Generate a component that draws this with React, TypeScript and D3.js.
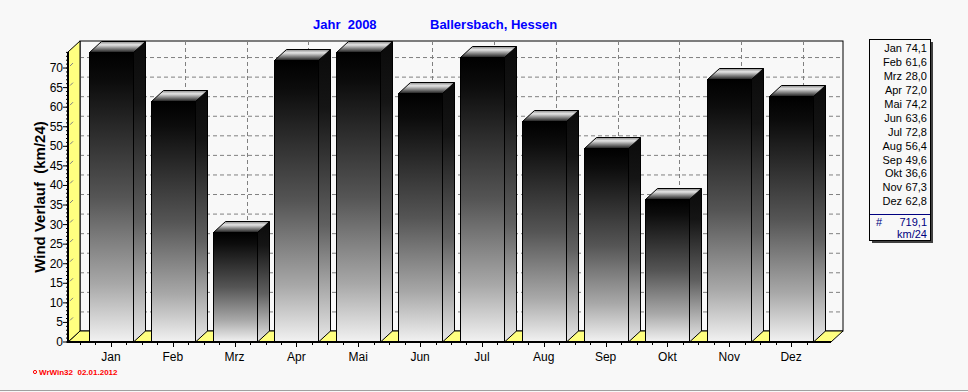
import React, { useEffect, useRef } from "react";
import * as d3 from "d3";

const months = ["Jan", "Feb", "Mrz", "Apr", "Mai", "Jun", "Jul", "Aug", "Sep", "Okt", "Nov", "Dez"];
const values = [74.1, 61.6, 28.0, 72.0, 74.2, 63.6, 72.8, 56.4, 49.6, 36.6, 67.3, 62.8];
const yTicks = [0, 5, 10, 15, 20, 25, 30, 35, 40, 45, 50, 55, 60, 65, 70];
const totalLabel = "719,1";
const unitLabel = "km/24";

const fmt = (v: number) => d3.format(".1f")(v).replace(".", ",");

const App = () => {
  const ref = useRef<SVGSVGElement>(null);

  useEffect(() => {
    const W = 968, H = 392;
    const dx = 12, dy = 11;
    const left = 68, right = 831, bottom = 342;
    const font = "'Liberation Sans', Arial, sans-serif";

    const svg = d3.select(ref.current);
    svg.selectAll("*").remove();
    svg.attr("width", W).attr("height", H);

    const x = d3.scaleBand<string>().domain(months).range([80, 822]);
    const y = d3.scaleLinear().domain([0, 74.1]).range([bottom, 52]);
    const barW = 44;
    const top = y(74.1);

    // gradients
    const defs = svg.append("defs");
    const grad = (id: string, stops: [number, string][]) => {
      const g = defs.append("linearGradient").attr("id", id)
        .attr("x1", 0).attr("y1", 0).attr("x2", 0).attr("y2", 1);
      stops.forEach(([o, c]) => g.append("stop").attr("offset", o).attr("stop-color", c));
    };
    grad("front", [[0, "#000"], [0.1, "#0c0c0c"], [0.5, "#555"], [0.8, "#a8a8a8"], [1, "#f2f2f2"]]);
    grad("side", [[0, "#0a0a0a"], [0.2, "#151515"], [0.6, "#606060"], [1, "#e8e8e8"]]);
    grad("topf", [[0, "#8a8a8a"], [0.3, "#e4e4e4"], [1, "#1a1a1a"]]);

    svg.append("rect").attr("width", W).attr("height", H).attr("fill", "#f8f8f8");

    // back wall
    svg.append("rect")
      .attr("x", left + dx).attr("y", top - dy)
      .attr("width", right - left).attr("height", bottom - top)
      .attr("fill", "#f8f8f8").attr("stroke", "#000");

    // grid on back wall
    const grid = svg.append("g").attr("stroke", "#808080").attr("stroke-dasharray", "4,3");
    yTicks.filter(t => t > 0).forEach(t => {
      grid.append("line")
        .attr("x1", left + dx).attr("x2", right + dx)
        .attr("y1", y(t) - dy + 0.5).attr("y2", y(t) - dy + 0.5);
    });
    months.forEach(m => {
      const cx = Math.round(x(m)! + x.bandwidth() / 2 + dx) + 0.5;
      grid.append("line").attr("x1", cx).attr("x2", cx).attr("y1", top - dy).attr("y2", bottom - dy);
    });

    // floor
    svg.append("path")
      .attr("d", `M${left},${bottom}L${left + dx},${bottom - dy}L${right + dx},${bottom - dy}L${right},${bottom}Z`)
      .attr("fill", "#ffff80").attr("stroke", "#000");

    // left wall
    svg.append("path")
      .attr("d", `M${left},${bottom}L${left + dx},${bottom - dy}L${left + dx},${top - dy}L${left},${top}Z`)
      .attr("fill", "#ffff80").attr("stroke", "#000");
    yTicks.filter(t => t > 0).forEach(t => {
      svg.append("line")
        .attr("x1", left + 2).attr("y1", y(t) - 2)
        .attr("x2", left + 5).attr("y2", y(t) - 5)
        .attr("stroke", "#808080");
    });

    // bars
    const bars = svg.append("g");
    months.forEach((m, i) => {
      const x0 = Math.round(x(m)! + (x.bandwidth() - barW) / 2) + 0.5;
      const x1 = x0 + barW;
      const yt = Math.round(y(values[i])) + 0.5;
      const g = bars.append("g").attr("stroke", "#000").attr("stroke-width", 1);
      g.append("path")
        .attr("d", `M${x1},${yt}L${x1 + dx},${yt - dy}L${x1 + dx},${bottom - dy}L${x1},${bottom}Z`)
        .attr("fill", "url(#side)");
      g.append("path")
        .attr("d", `M${x0},${yt}L${x0 + dx},${yt - dy}L${x1 + dx},${yt - dy}L${x1},${yt}Z`)
        .attr("fill", "url(#topf)");
      g.append("rect")
        .attr("x", x0).attr("y", yt).attr("width", barW).attr("height", bottom - yt)
        .attr("fill", "url(#front)");
    });

    // y axis
    const ax = svg.append("g");
    ax.append("line").attr("x1", left).attr("x2", left).attr("y1", top).attr("y2", bottom + 1)
      .attr("stroke", "#000").attr("stroke-width", 2);
    d3.range(0, 75).forEach(v => {
      ax.append("line").attr("x1", left - 2).attr("x2", left).attr("y1", y(v)).attr("y2", y(v)).attr("stroke", "#000");
    });
    yTicks.forEach(t => {
      ax.append("line").attr("x1", left - 5).attr("x2", left).attr("y1", y(t)).attr("y2", y(t)).attr("stroke", "#000");
      ax.append("text").attr("x", left - 5).attr("y", y(t) + 4).attr("text-anchor", "end")
        .attr("font-family", font).attr("font-size", 12).attr("fill", "#000").text(t);
    });

    // x axis
    ax.append("line").attr("x1", left).attr("x2", right).attr("y1", bottom).attr("y2", bottom)
      .attr("stroke", "#000").attr("stroke-width", 2);
    months.forEach(m => {
      const c = x(m)! + x.bandwidth() / 2;
      [-0.5, -0.25, 0.25].forEach(f => {
        const tx = Math.round(c + f * x.bandwidth()) + 0.5;
        ax.append("line").attr("x1", tx).attr("x2", tx).attr("y1", bottom).attr("y2", bottom + 3).attr("stroke", "#000");
      });
      ax.append("line").attr("x1", Math.round(c) + 0.5).attr("x2", Math.round(c) + 0.5)
        .attr("y1", bottom).attr("y2", bottom + 5).attr("stroke", "#000");
      ax.append("text").attr("x", c).attr("y", 361).attr("text-anchor", "middle")
        .attr("font-family", font).attr("font-size", 12).attr("fill", "#000").text(m);
    });

    // axis title
    svg.append("text")
      .attr("transform", `translate(45,197) rotate(-90)`)
      .attr("text-anchor", "middle").attr("font-family", font).attr("font-weight", "bold")
      .attr("font-size", 15).attr("fill", "#000").style("white-space", "pre")
      .text("Wind Verlauf  (km/24)");

    // titles
    svg.append("text").attr("x", 313).attr("y", 29).attr("font-family", font).attr("font-weight", "bold")
      .attr("font-size", 13).attr("fill", "#0000ff").style("white-space", "pre")
      .text("Jahr  2008");
    svg.append("text").attr("x", 430).attr("y", 29).attr("font-family", font).attr("font-weight", "bold")
      .attr("font-size", 13).attr("fill", "#0000ff").text("Ballersbach, Hessen");

    // footer
    svg.append("circle").attr("cx", 35).attr("cy", 372).attr("r", 1.6).attr("fill", "none").attr("stroke", "#ff0000");
    svg.append("text").attr("x", 39).attr("y", 375).attr("font-family", font).attr("font-weight", "bold")
      .attr("font-size", 8).attr("fill", "#ff0000").style("white-space", "pre").text("WrWin32  02.01.2012");

    // legend box
    const lg = svg.append("g").attr("font-family", font).attr("font-size", 11);
    lg.append("rect").attr("x", 872).attr("y", 42).attr("width", 61).attr("height", 201).attr("fill", "#404040");
    lg.append("rect").attr("x", 869.5).attr("y", 39.5).attr("width", 61).attr("height", 201)
      .attr("fill", "#f8f8f8").attr("stroke", "#000");
    months.forEach((m, i) => {
      const ly = 52 + i * 13.94;
      lg.append("text").attr("x", 902).attr("y", ly).attr("text-anchor", "end")
        .attr("fill", "#000").text(m);
      lg.append("text").attr("x", 927).attr("y", ly).attr("text-anchor", "end")
        .attr("fill", "#000").text(fmt(values[i]));
    });
    lg.append("line").attr("x1", 870).attr("x2", 930).attr("y1", 214.5).attr("y2", 214.5).attr("stroke", "#000080");
    lg.append("text").attr("x", 876).attr("y", 226).attr("fill", "#000080").text("#");
    lg.append("text").attr("x", 927).attr("y", 226).attr("text-anchor", "end")
      .attr("fill", "#000080").text(totalLabel);
    lg.append("text").attr("x", 927).attr("y", 237.5).attr("text-anchor", "end")
      .attr("fill", "#000080").text(unitLabel);

    // frame
    svg.append("line").attr("x1", 0).attr("x2", W).attr("y1", 390.5).attr("y2", 390.5).attr("stroke", "#a0a0a0");
  }, []);

  return <svg ref={ref} style={{ position: "absolute", left: 0, top: 0, display: "block" }}></svg>;
};

export default App;
